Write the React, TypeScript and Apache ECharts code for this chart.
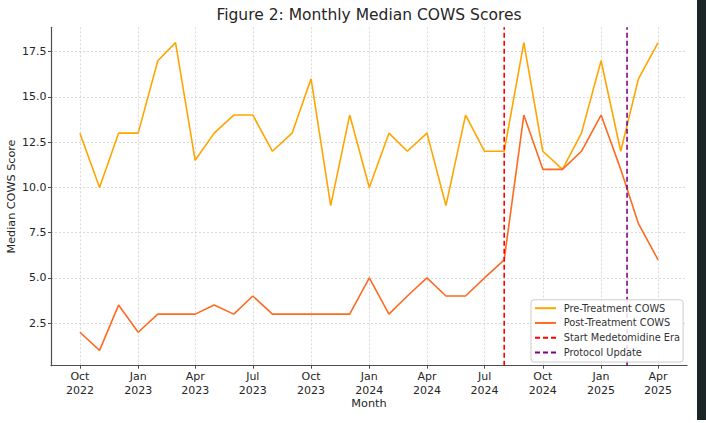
import React, { useEffect, useRef } from "react";
import * as echarts from "echarts";

const months = [
  "2022-10-01", "2022-11-01", "2022-12-01", "2023-01-01", "2023-02-01", "2023-03-01",
  "2023-04-01", "2023-05-01", "2023-06-01", "2023-07-01", "2023-08-01", "2023-09-01",
  "2023-10-01", "2023-11-01", "2023-12-01", "2024-01-01", "2024-02-01", "2024-03-01",
  "2024-04-01", "2024-05-01", "2024-06-01", "2024-07-01", "2024-08-01", "2024-09-01",
  "2024-10-01", "2024-11-01", "2024-12-01", "2025-01-01", "2025-02-01", "2025-03-01",
  "2025-04-01",
];
const preTreatment = [13, 10, 13, 13, 17, 18, 11.5, 13, 14, 14, 12, 13, 16, 9, 14, 10, 13, 12, 13, 9, 14, 12, 12, 18, 12, 11, 13, 17, 12, 16, 18];
const postTreatment = [2, 1, 3.5, 2, 3, 3, 3, 3.5, 3, 4, 3, 3, 3, 3, 3, 5, 3, 4, 5, 4, 4, 5, 6, 14, 11, 11, 12, 14, 11, 8, 6];
const xTickDates = [
  "2022-10-01", "2023-01-01", "2023-04-01", "2023-07-01", "2023-10-01", "2024-01-01",
  "2024-04-01", "2024-07-01", "2024-10-01", "2025-01-01", "2025-04-01",
];
const yTicks = [2.5, 5.0, 7.5, 10.0, 12.5, 15.0, 17.5];
const medetomidineStart = "2024-08-01";
const protocolUpdate = "2025-02-11";
const yMin = 0.15;
const yMax = 18.85;
const xMinDate = "2022-08-16T08:00:00";
const xMaxDate = "2025-05-16T16:00:00";
const monthNames = ["Jan", "Feb", "Mar", "Apr", "May", "Jun", "Jul", "Aug", "Sep", "Oct", "Nov", "Dec"];

const ts = (s: string) => {
  const [d, t] = s.split("T");
  const [y, m, dd] = d.split("-").map(Number);
  let h = 0, mi = 0;
  if (t) {
    const p = t.split(":").map(Number);
    h = p[0];
    mi = p[1];
  }
  return Date.UTC(y, m - 1, dd, h, mi);
};

export default function App() {
  const ref = useRef<HTMLDivElement>(null);
  useEffect(() => {
    if (!ref.current) return;
    const chart = echarts.init(ref.current, null, { renderer: "svg" });
    const font = "DejaVu Sans";
    const textColor = "#262626";
    const gridLine = { show: true, lineStyle: { color: "#cfcfcf", width: 0.8, type: [2, 2] as any } };
    const option: any = {
      animation: false,
      backgroundColor: "#ffffff",
      textStyle: { fontFamily: font },
      title: {
        text: "Figure 2: Monthly Median COWS Scores",
        left: 369,
        top: 7,
        textAlign: "center",
        padding: 0,
        textStyle: { fontFamily: font, fontSize: 15.5, fontWeight: "normal", color: textColor },
      },
      grid: { left: 51, top: 27.3, right: 19, bottom: 57.3, containLabel: false, outerBoundsMode: "none" },
      xAxis: {
        type: "value",
        min: ts(xMinDate),
        max: ts(xMaxDate),
        name: "Month",
        nameLocation: "middle",
        nameGap: 32,
        nameMoveOverlap: false,
        nameTextStyle: { fontFamily: font, fontSize: 11.3, color: textColor },
        axisLine: { show: true, lineStyle: { color: "#4d4d4d", width: 1.2 } },
        axisTick: { show: true, length: 3, lineStyle: { color: "#4d4d4d" }, customValues: xTickDates.map(ts) },
        axisLabel: {
          show: true,
          margin: 3.5,
          fontFamily: font,
          fontSize: 11,
          lineHeight: 14,
          color: textColor,
          customValues: xTickDates.map(ts),
          formatter: (v: number) => {
            const d = new Date(v);
            return monthNames[d.getUTCMonth()] + "\n" + d.getUTCFullYear();
          },
        },
        splitLine: gridLine,
      },
      yAxis: {
        type: "value",
        min: yMin,
        max: yMax,
        name: "Median COWS Score",
        nameLocation: "middle",
        nameGap: 34,
        nameMoveOverlap: false,
        nameTextStyle: { fontFamily: font, fontSize: 11.2, color: textColor },
        axisLine: { show: true, lineStyle: { color: "#4d4d4d", width: 1.2 } },
        axisTick: { show: true, length: 3, lineStyle: { color: "#4d4d4d" }, customValues: yTicks },
        axisLabel: {
          margin: 4.5,
          fontFamily: font,
          fontSize: 11,
          color: textColor,
          customValues: yTicks,
          formatter: (v: number) => v.toFixed(1),
        },
        splitLine: gridLine,
      },
      legend: {
        orient: "vertical",
        left: 531,
        top: 299.8,
        padding: [3.4, 3, 4.6, 3],
        itemGap: 4.75,
        itemWidth: 21,
        itemHeight: 10,
        itemStyle: { opacity: 0 },
        backgroundColor: "rgba(255,255,255,0.85)",
        borderColor: "#cccccc",
        borderWidth: 1,
        borderRadius: 3,
        textStyle: { fontFamily: font, fontSize: 9.8, lineHeight: 10, color: "#333333", padding: [0, 0, 0, 2.7] },
        data: ["Pre-Treatment COWS", "Post-Treatment COWS", "Start Medetomidine Era", "Protocol Update"],
      },
      series: [
        {
          name: "Pre-Treatment COWS",
          type: "line",
          symbol: "none",
          data: months.map((m, i) => [ts(m), preTreatment[i]]),
          lineStyle: { color: "#ffa500", width: 1.6 },
          itemStyle: { color: "#ffa500" },
        },
        {
          name: "Post-Treatment COWS",
          type: "line",
          symbol: "none",
          data: months.map((m, i) => [ts(m), postTreatment[i]]),
          lineStyle: { color: "#ff6a22", width: 1.6 },
          itemStyle: { color: "#ff6a22" },
        },
        {
          name: "Start Medetomidine Era",
          type: "line",
          symbol: "none",
          data: [[ts(medetomidineStart), yMin], [ts(medetomidineStart), yMax]],
          lineStyle: { color: "#ff0000", width: 1.6, type: [5, 3] },
          itemStyle: { color: "#ff0000" },
        },
        {
          name: "Protocol Update",
          type: "line",
          symbol: "none",
          data: [[ts(protocolUpdate), yMin], [ts(protocolUpdate), yMax]],
          lineStyle: { color: "#800080", width: 1.6, type: [5, 3] },
          itemStyle: { color: "#800080" },
        },
      ],
      graphic: [
        { type: "rect", shape: { x: 697, y: 0, width: 9, height: 420 }, style: { fill: "#1c2527" }, silent: true },
      ],
    };
    chart.setOption(option);
    return () => chart.dispose();
  }, []);
  return (
    <div
      ref={ref}
      style={{ position: "fixed", left: 0, top: 0, width: 706, height: 423, background: "#fff" }}
    />
  );
}
